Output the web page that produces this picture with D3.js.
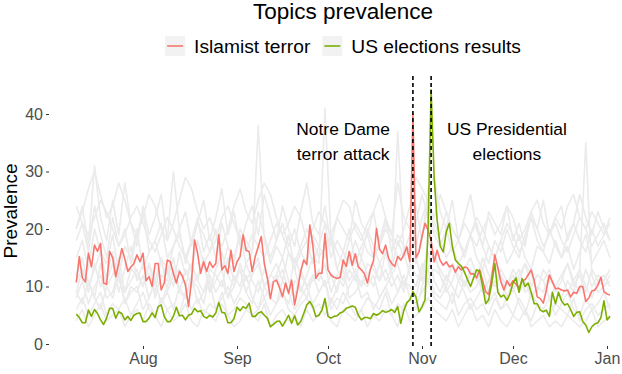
<!DOCTYPE html>
<html>
<head>
<meta charset="utf-8">
<script src="https://cdn.jsdelivr.net/npm/d3@7"></script>
<style>
  body { margin: 0; background: #fff; }
  svg { display: block; font-family: "Liberation Sans", Arial, sans-serif; }
</style>
</head>
<body>
<div id="topicsChart"></div>
<script>
// daily series start on this day (one value per day)
var startDate = new Date(2020, 6, 10);

var islamistTerror = [
    10.7, 15.2, 11.5, 10.8, 15.8, 13.4, 17.2, 16.1, 17.5, 10.6,
    10.4, 16.1, 15.0, 11.7, 14.0, 16.6, 14.8, 12.6, 13.4, 14.0,
    15.5, 14.3, 15.8, 11.0, 11.7, 10.0, 14.0, 14.0, 9.4, 10.6,
    14.6, 14.3, 12.3, 10.6, 12.6, 11.8, 10.3, 6.5, 11.0, 18.1,
    15.8, 12.3, 14.3, 12.6, 14.3, 13.3, 14.0, 19.0, 12.9, 13.6,
    12.3, 16.3, 12.6, 14.3, 15.2, 19.0, 16.3, 16.1, 12.6, 15.2,
    16.9, 18.7, 14.0, 11.5, 7.9, 10.8, 11.1, 9.8, 8.2, 10.6,
    8.8, 11.1, 6.8, 9.5, 12.6, 14.6, 13.8, 20.7, 17.2, 11.4,
    12.3, 12.3, 19.2, 12.9, 12.0, 11.6, 11.4, 11.6, 14.6, 13.5,
    16.1, 13.7, 15.7, 13.4, 12.9, 12.2, 10.6, 13.0, 14.5, 20.1,
    16.5, 15.7, 17.2, 14.9, 14.0, 13.5, 15.2, 14.6, 15.5, 16.9,
    14.3, 40.0, 15.0, 16.0, 18.7, 21.0, 19.8, 18.0, 14.3, 16.3,
    14.5, 13.7, 14.3, 13.4, 13.7, 12.5, 13.4, 12.9, 13.4, 13.2,
    12.2, 12.2, 11.5, 12.9, 11.0, 9.1, 8.6, 11.6, 15.5, 13.3,
    10.8, 9.4, 11.0, 10.1, 11.0, 10.4, 9.7, 11.0, 11.2, 12.0,
    12.9, 11.0, 8.2, 7.9, 7.1, 9.4, 12.0, 10.8, 9.6, 9.7,
    9.4, 9.2, 9.4, 8.2, 9.0, 8.8, 10.0, 10.0, 7.4, 8.0,
    9.2, 9.4, 10.2, 11.6, 9.1, 8.7, 8.5
];

var usElections = [
    5.2, 4.6, 3.7, 3.7, 5.9, 4.8, 6.0, 5.3, 4.2, 3.4,
    4.5, 6.2, 6.2, 4.5, 5.6, 5.3, 4.2, 4.8, 4.1, 5.0,
    5.3, 5.4, 3.9, 3.9, 4.5, 5.4, 4.6, 6.5, 6.8, 4.8,
    3.9, 3.9, 4.8, 6.4, 4.9, 5.0, 4.2, 5.0, 5.2, 6.2,
    5.6, 5.8, 4.8, 4.5, 5.0, 4.7, 5.4, 7.2, 5.5, 5.4,
    3.7, 3.7, 4.4, 6.4, 5.8, 6.5, 6.2, 7.1, 4.8, 4.8,
    5.4, 5.6, 5.0, 4.5, 3.0, 3.4, 3.9, 4.0, 3.1, 4.0,
    5.0, 3.6, 4.9, 3.3, 3.9, 5.3, 6.8, 7.4, 6.5, 4.8,
    5.0, 5.9, 7.9, 4.8, 4.5, 4.8, 4.9, 5.4, 5.6, 6.2,
    6.4, 6.6, 6.4, 5.0, 4.2, 4.6, 4.6, 4.4, 5.3, 5.0,
    5.3, 5.8, 5.5, 5.7, 6.0, 5.5, 6.5, 3.6, 5.8, 7.2,
    7.7, 9.1, 8.2, 5.6, 6.5, 7.7, 20.0, 44.2, 29.0, 21.5,
    17.0, 16.0, 19.5, 21.0, 17.0, 14.6, 14.0, 13.5, 12.5, 11.2,
    10.0, 11.5, 12.9, 12.6, 10.0, 7.0, 7.7, 10.6, 14.0, 9.0,
    8.2, 8.5, 7.6, 8.7, 10.6, 11.5, 9.0, 11.4, 10.0, 10.6,
    9.0, 7.0, 7.0, 5.9, 5.6, 5.9, 4.8, 9.0, 7.0, 9.0,
    7.5, 6.8, 7.0, 6.0, 4.8, 5.5, 5.6, 3.9, 3.3, 2.0,
    3.0, 3.5, 3.7, 4.6, 7.5, 4.2, 4.8
];

// the other topics, read every second day
var otherTopics = [
    [20,23,27,30,26,22,24,28,25,21, 19,22,26,24,20,18,21,25,29,27, 23,20,22,19,17,20,24,27,23,21,
     25,28,26,22,19,21,24,22,18,20, 23,21,19,22,25,24,20,18,21,23, 26,22,19,17,20,24,29,27,25,22,
     26,23,20,18,21,19,17,20,22,19, 21,24,22,18,20,23,25,21,19,22, 20,24,26,22,20,23,21,19,22],
    [18,21,16,24,19,15,22,17,20,14, 19,23,16,18,21,15,17,20,14,18, 22,16,19,15,21,17,14,20,18,16,
     23,19,15,18,21,17,20,16,14,19, 17,21,15,18,16,20,14,17,19,15, 18,22,16,19,17,15,21,26,22,19,
     17,20,16,18,15,19,21,17,14,18, 16,20,17,15,19,22,18,16,20,17, 15,19,21,18,16,20,17,19,21],
    [12,15,10,13,16,11,14,9,13,17, 11,14,12,9,15,13,10,16,12,14, 11,15,9,13,16,12,10,14,11,13,
     15,10,12,14,11,16,13,9,12,15, 14,41,18,13,11,15,12,10,14,13, 11,16,12,14,10,13,15,11,13,16,
     12,10,14,11,13,15,12,9,11,14, 12,10,13,11,14,12,9,13,11,10, 12,14,11,9,13,10,12,11,13],
    [9,13,11,8,14,10,12,15,9,11, 13,10,14,8,12,11,15,9,13,10, 12,14,9,11,13,8,12,10,14,11,
     9,13,10,12,15,11,8,13,10,12, 11,14,9,12,10,13,11,15,12,10, 14,11,13,37,16,12,10,14,11,13,
     12,9,11,14,10,12,13,9,11,10, 12,8,11,13,9,10,12,11,8,10, 12,9,11,13,10,8,11,12,10],
    [8,11,7,10,12,8,9,13,7,10, 9,12,8,11,7,10,13,9,8,11, 10,7,12,9,11,8,10,13,9,7,
     11,8,10,12,9,7,11,10,8,12, 9,11,7,10,13,8,9,11,10,12, 8,10,12,9,11,10,8,13,16,11,
     9,12,10,8,11,9,10,13,9,11, 8,10,12,9,11,8,10,9,12,10, 8,11,9,13,35,12,9,10,11],
    [6,8,5,7,9,5,7,6,8,5, 7,9,6,5,8,6,7,5,9,6, 8,5,7,6,9,5,6,8,7,5,
     6,8,5,7,9,6,5,7,8,6, 7,5,8,6,9,7,5,6,8,7, 6,9,5,7,6,8,7,9,11,8,
     7,6,9,5,7,8,6,7,5,8, 6,7,5,8,6,4,7,6,5,7, 6,5,8,4,6,7,5,6,7],
    [4,6,3,5,7,4,5,6,3,5, 6,4,7,5,3,6,4,5,7,4, 3,6,5,4,7,5,3,4,6,5,
     4,7,3,5,6,4,5,3,6,4, 5,7,4,3,6,5,4,6,3,5, 4,6,5,3,7,4,5,6,8,6,
     5,4,6,3,5,7,4,5,3,6, 4,3,5,4,6,3,4,5,3,4, 3,5,4,3,4,6,3,4,5],
    [15,18,13,20,16,14,19,12,17,15, 20,13,16,18,14,12,17,19,15,13, 18,14,16,20,13,17,15,19,14,16,
     38,18,14,17,15,19,13,16,18,14, 17,15,19,13,16,14,18,15,20,17, 14,16,13,18,15,17,14,19,24,20,
     18,15,17,14,16,19,15,13,17,15, 18,14,16,19,15,13,17,16,14,18, 15,17,13,16,19,14,16,18,15],
    [20,24,17,31,22,18,25,19,28,21, 17,24,19,22,26,18,30,20,23,17, 21,25,18,22,27,19,23,17,21,24,
     19,26,22,18,24,20,17,23,28,21, 19,24,17,22,20,18,25,21,19,23, 17,21,19,28,22,20,24,18,27,29,
     23,20,25,18,22,26,20,17,23,21, 19,24,18,21,17,23,20,25,19,22, 24,18,21,26,22,19,23,20,18],
    [9,7,11,8,6,10,8,12,7,9, 10,6,8,11,7,9,6,10,8,12, 7,9,11,6,8,10,7,9,12,8,
     6,10,8,7,11,9,6,8,10,7, 9,11,6,8,7,10,12,8,9,6, 8,10,7,9,12,8,6,10,13,9,
     8,10,7,11,9,6,8,10,7,9, 6,8,10,7,5,9,7,6,8,5, 7,9,6,5,8,6,7,9,6],
    [11,13,9,14,10,12,16,11,9,13, 12,10,14,11,15,9,12,13,10,14, 11,9,13,12,10,15,11,13,9,12,
     14,10,12,11,13,9,15,12,10,11, 13,10,12,9,14,11,13,10,12,14, 11,13,10,12,9,14,12,11,18,15,
     13,11,14,12,10,13,11,15,12,10, 13,11,9,12,14,10,12,11,13,9, 11,14,10,12,9,13,11,10,12],
    [24,21,19,22,25,23,20,17,19,22, 24,21,18,16,19,22,20,17,15,18, 21,19,16,18,22,24,21,18,16,19,
     17,15,18,21,19,16,14,17,20,18, 15,17,19,16,14,18,21,19,16,15, 17,20,18,15,16,19,17,22,25,21,
     19,23,20,18,16,19,22,20,17,15, 18,21,19,16,18,22,20,17,19,21, 18,16,19,22,20,17,19,21,18]
];

var seriesNames = ["Islamist terror", "US elections results"];
var seriesColors = ["#F8766D", "#7CAE00"];

var monthTicks = [new Date(2020, 7, 1), new Date(2020, 8, 1), new Date(2020, 9, 1),
                  new Date(2020, 10, 1), new Date(2020, 11, 1), new Date(2021, 0, 1)];
var monthLabels = ["Aug", "Sep", "Oct", "Nov", "Dec", "Jan"];
var yTicks = [0, 10, 20, 30, 40];

// Notre Dame attack and the day the election results came in
var eventDates = [new Date(2020, 9, 29), new Date(2020, 10, 4)];
var eventLabels = [
    {lines: ["Notre Dame", "terror attack"], date: new Date(2020, 9, 6), value: 37.2},
    {lines: ["US Presidential", "elections"], date: new Date(2020, 10, 29), value: 37.2}
];

var width = 622, height = 374;
var panel = {left: 49, right: 637, top: 76, bottom: 346};

var svg = d3.select("#topicsChart").append("svg")
    .attr("width", width)
    .attr("height", height);

var x = d3.scaleTime().domain([monthTicks[0], monthTicks[5]]).range([143, 607]);
var y = d3.scaleLinear().domain([0, 40]).range([344, 114]);

function toPoints(values, step) {
    return values.map(function(v, i) {
        return {date: d3.timeDay.offset(startDate, i * step), value: v};
    });
}

var line = d3.line()
    .x(function(d) { return x(d.date); })
    .y(function(d) { return y(d.value); });

//Grey background topics
svg.append("g").selectAll("path")
    .data(otherTopics)
    .enter().append("path")
    .attr("d", function(d) { return line(toPoints(d, 2)); })
    .attr("fill", "none")
    .attr("stroke", "#EBEBEB")
    .attr("stroke-width", 1.6)
    .attr("stroke-linejoin", "round");

//The two highlighted topics, green drawn last
svg.append("g").selectAll("path")
    .data([islamistTerror, usElections])
    .enter().append("path")
    .attr("d", function(d) { return line(toPoints(d, 1)); })
    .attr("fill", "none")
    .attr("stroke", function(d, i) { return seriesColors[i]; })
    .attr("stroke-width", 1.6)
    .attr("stroke-linejoin", "round");

//Event markers
svg.append("g").selectAll("line")
    .data(eventDates)
    .enter().append("line")
    .attr("x1", function(d) { return x(d); })
    .attr("x2", function(d) { return x(d); })
    .attr("y1", panel.top)
    .attr("y2", panel.bottom)
    .attr("stroke", "#000")
    .attr("stroke-width", 1.6)
    .attr("stroke-dasharray", "4,3");

var notes = svg.append("g").selectAll("text")
    .data(eventLabels)
    .enter().append("text")
    .attr("text-anchor", "middle")
    .attr("font-size", 17.4)
    .attr("fill", "#000");
notes.selectAll("tspan")
    .data(function(d) {
        return d.lines.map(function(t, i) { return {t: t, i: i, d: d}; });
    })
    .enter().append("tspan")
    .attr("x", function(s) { return x(s.d.date); })
    .attr("y", function(s) { return y(s.d.value) + 5 + s.i * 25; })
    .text(function(s) { return s.t; });

//Axes
var yAxis = svg.append("g")
    .attr("transform", "translate(" + panel.left + ",0)")
    .call(d3.axisLeft(y).tickValues(yTicks).tickSize(3).tickPadding(3));
var xAxis = svg.append("g")
    .attr("transform", "translate(0," + panel.bottom + ")")
    .call(d3.axisBottom(x).tickValues(monthTicks).tickSize(3).tickPadding(4)
        .tickFormat(function(d, i) { return monthLabels[i]; }));
[yAxis, xAxis].forEach(function(a) {
    a.select(".domain").remove();
    a.selectAll(".tick line").attr("stroke", "#333333");
    a.selectAll(".tick text").attr("fill", "#4D4D4D").attr("font-size", 16)
        .attr("font-family", "Liberation Sans, Arial, sans-serif");
});

svg.append("text")
    .attr("transform", "translate(17,211) rotate(-90)")
    .attr("text-anchor", "middle")
    .attr("font-size", 19)
    .text("Prevalence");

var centre = (panel.left + panel.right) / 2;
svg.append("text")
    .attr("x", centre)
    .attr("y", 19)
    .attr("text-anchor", "middle")
    .attr("font-size", 22.5)
    .text("Topics prevalence");

//Legend, laid out from measured text widths and centred over the panel
var legend = svg.append("g");
var offset = 0;
seriesNames.forEach(function(name, i) {
    var item = legend.append("g").attr("transform", "translate(" + offset + ",0)");
    item.append("rect").attr("x", 0).attr("y", 36).attr("width", 20).attr("height", 20)
        .attr("fill", "#F2F2F2");
    item.append("line").attr("x1", 2).attr("x2", 18).attr("y1", 46).attr("y2", 46)
        .attr("stroke", seriesColors[i]).attr("stroke-width", 1.6);
    var label = item.append("text").attr("x", 29).attr("y", 52.5)
        .attr("font-size", 19.2).text(name);
    offset += 29 + label.node().getComputedTextLength() + 12;
});
offset -= 12;
legend.attr("transform", "translate(" + (centre - offset / 2) + ",0)");
</script>
</body>
</html>
